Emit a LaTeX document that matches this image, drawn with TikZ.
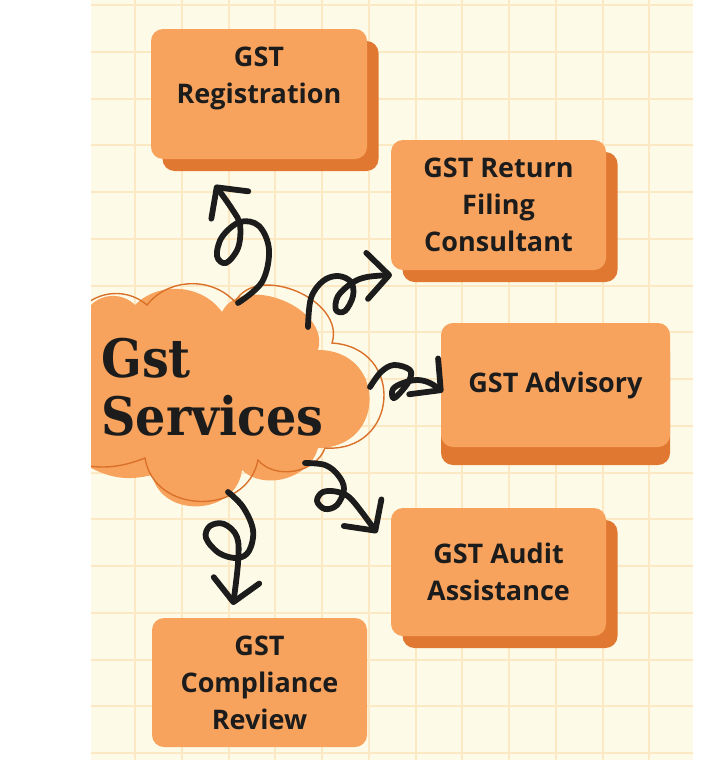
\documentclass[tikz,border=0pt]{standalone}
\usepackage{fontspec}
\setmainfont{Open Sans}
\newfontfamily\titlefont{DejaVu Serif Condensed}
\usetikzlibrary{arrows.meta,shadows}

\definecolor{paper}{HTML}{FDFBE7}
\definecolor{gridc}{HTML}{FCE8C2}
\definecolor{cardface}{HTML}{F8A35D}
\definecolor{cardshadow}{HTML}{E07832}
\definecolor{cloudline}{HTML}{D9712B}
\definecolor{ink}{HTML}{1C1C1C}

\tikzset{
  cardbase/.style={fill=cardface, rounded corners=6pt, align=center, inner sep=0pt,
    text=ink, font=\fontsize{13.5}{18.5}\selectfont\bfseries},
  card/.style={cardbase,
    drop shadow={shadow xshift=5.75pt, shadow yshift=-6pt, fill=cardshadow, opacity=1}},
  gridline/.style={gridc, line width=1pt},
  curl/.style={ink, line width=2.9pt, line cap=round, line join=round,
    -{Straight Barb[length=11pt,width=23pt,round]}},
  titletext/.style={anchor=base west, inner sep=0pt, text=ink,
    font=\titlefont\bfseries\fontsize{26.5}{30}\selectfont},
}

\begin{document}
\begin{tikzpicture}[x=0.5pt,y=0.5pt]
  \useasboundingbox (0,0) rectangle (717,-760);
  \fill[white] (0,0) rectangle (717,-760);

  \begin{scope}
    \clip (91,0) rectangle (693,-760);
    \fill[paper] (91,0) rectangle (693,-760);
    \foreach \gx in {0,...,12}
      \draw[gridline] ({88.25+46.75*\gx},0) -- ++(0,-760);
    \foreach \gy in {0,...,16}
      \draw[gridline] (91,{-5-46.75*\gy}) -- ++(602,0);

    % cloud behind the title
    \fill[cardface] (91,-305) to[bend left=45] (135,-305)
      to[bend left=50] (222,-312)
      to[bend left=85,looseness=1.1] (318,-350)
      to[bend left=90,looseness=1.8] (318,-448)
      to[bend left=60] (242,-470)
      to[bend left=80,looseness=1.3] (152,-475)
      to[bend left=20] (91,-468) -- cycle;
    \draw[cloudline, line width=0.7pt] (80,-310) to[bend left=45] (147,-305)
      to[bend left=50] (235,-302)
      to[bend left=85,looseness=1.1] (332,-343)
      to[bend left=90,looseness=1.8] (325,-448)
      to[bend left=60] (258,-460)
      to[bend left=80,looseness=1.3] (145,-458)
      to[bend left=15] (80,-465);
  \end{scope}

  \node[titletext] (gst) at (101,-377) {Gst};
  \node[titletext] (services) at (101,-435) {Services};

  % the boxes
  \node[card, minimum width=108pt, minimum height=65pt] (reg) at (259,-94)
    {GST\\Registration\\\mbox{}};
  \node[card, minimum width=107.5pt, minimum height=65pt] (ret) at (498.5,-205)
    {GST Return\\Filing\\Consultant};
  \node[cardbase, minimum width=114.5pt, minimum height=62pt,
    drop shadow={shadow xshift=0pt, shadow yshift=-9pt, fill=cardshadow, opacity=1}]
    (adv) at (555.5,-385) {GST Advisory};
  \node[card, minimum width=107.5pt, minimum height=64pt] (aud) at (498.5,-572)
    {GST Audit\\Assistance};
  \node[cardbase, minimum width=107.5pt, minimum height=64.5pt]
    (comp) at (259.5,-682.5) {GST\\Compliance\\Review};

  % curly connectors
  \coordinate (r1s) at (238,-303);  \coordinate (r1e) at (215,-185);
  \coordinate (r2s) at (308,-327);  \coordinate (r2e) at (392,-275);
  \coordinate (r3s) at (370,-387);  \coordinate (r3e) at (443,-392);
  \coordinate (r4s) at (305,-463);  \coordinate (r4e) at (377,-533);
  \coordinate (r5s) at (228,-492);  \coordinate (r5e) at (233,-605);

  \draw[curl] plot[smooth, tension=0.6] coordinates {(r1s) (262,-282) (269,-250)
    (259,-226) (240,-222) (222,-237) (217,-256) (226,-263) (238,-248) (240,-225)
    (232,-209) (r1e)};
  \draw[curl] plot[smooth, tension=0.6] coordinates {(r2s) (311,-298) (323,-281)
    (338,-276) (351,-282) (353,-296) (345,-311) (336,-310) (338,-296) (352,-283)
    (367,-277) (r2e)};
  \draw[curl] plot[smooth, tension=0.6] coordinates {(r3s) (381,-372) (394,-365)
    (410,-370) (409,-381) (399,-394) (393,-398) (393,-389) (403,-383) (417,-380)
    (430,-383) (r3e)};
  \draw[curl] plot[smooth, tension=0.6] coordinates {(r4s) (325,-465) (338,-475)
    (344,-489) (337,-505) (325,-509) (317,-501) (323,-492) (338,-492) (352,-500)
    (r4e)};
  \draw[curl] plot[smooth, tension=0.6] coordinates {(r5s) (243,-507) (253,-530)
    (249,-551) (237,-558) (219,-553) (206,-538) (210,-526) (224,-524) (237,-537)
    (238,-563) (r5e)};
\end{tikzpicture}
\end{document}
